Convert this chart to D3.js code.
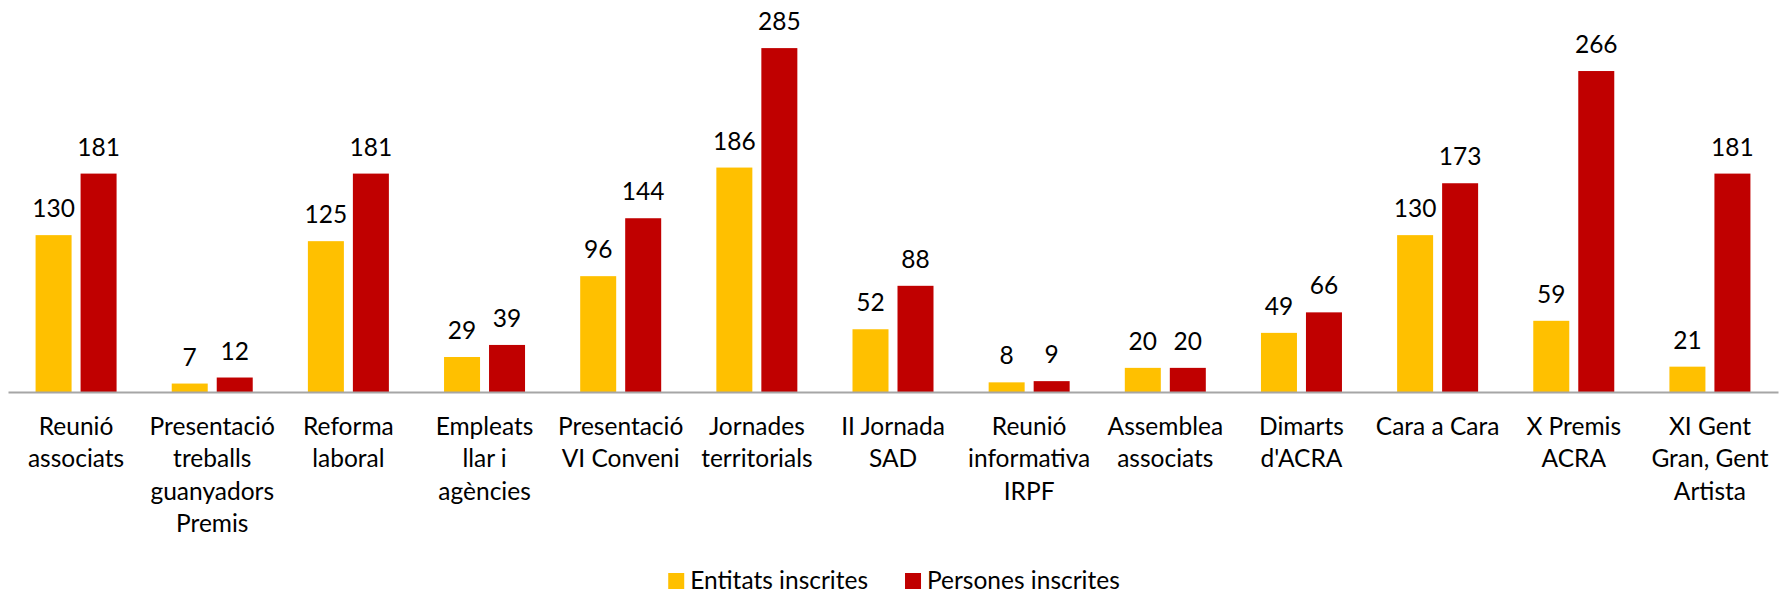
<!DOCTYPE html>
<html>
<head>
<meta charset="utf-8">
<script src="https://cdn.jsdelivr.net/npm/d3@7"></script>
<style>
  body { margin: 0; background: #fff; }
  text { font-family: Lato, "Noto Sans", sans-serif; fill: #000; }
</style>
</head>
<body>
<svg id="chart"></svg>
<script>
// categories, each one split into the lines it is printed on
var categories = [
  ["Reunió", "associats"],
  ["Presentació", "treballs", "guanyadors", "Premis"],
  ["Reforma", "laboral"],
  ["Empleats", "llar i", "agències"],
  ["Presentació", "VI Conveni"],
  ["Jornades", "territorials"],
  ["II Jornada", "SAD"],
  ["Reunió", "informativa", "IRPF"],
  ["Assemblea", "associats"],
  ["Dimarts", "d'ACRA"],
  ["Cara a Cara"],
  ["X Premis", "ACRA"],
  ["XI Gent", "Gran, Gent", "Artista"]
];
var seriesNames = ["Entitats inscrites", "Persones inscrites"];
var entitats = [130, 7, 125, 29, 96, 186, 52, 8, 20, 49, 130, 59, 21];
var persones = [181, 12, 181, 39, 144, 285, 88, 9, 20, 66, 173, 266, 181];
var colors = ["#FFC000", "#C00000"];

var width = 1783, height = 595;
var fontSize = 24.5;

var svg = d3.select("#chart").attr("width", width).attr("height", height);

var keys = categories.map(function (c) { return c.join(" "); });
var x0 = d3.scaleBand().domain(keys).range([8, 1778]).paddingInner(0).paddingOuter(0);
var bw = x0.bandwidth();
var x1 = d3.scaleBand().domain(seriesNames).range([0, bw])
  .paddingInner(0.2).paddingOuter((bw / 45 - 1.8) / 2);
var y = d3.scaleLinear().domain([0, 300]).range([392, 30]);

var rows = keys.map(function (k, i) {
  return { key: k, values: [entitats[i], persones[i]] };
});

var groups = svg.selectAll(".grp").data(rows).enter().append("g")
  .attr("class", "grp")
  .attr("transform", function (d) { return "translate(" + x0(d.key) + ",0)"; });

groups.selectAll("rect").data(function (d) {
  return d.values.map(function (v, j) { return { s: seriesNames[j], v: v, j: j }; });
}).enter().append("rect")
  .attr("x", function (d) { return x1(d.s); })
  .attr("width", x1.bandwidth())
  .attr("y", function (d) { return y(d.v); })
  .attr("height", function (d) { return y(0) - y(d.v); })
  .attr("fill", function (d) { return colors[d.j]; });

groups.selectAll(".val").data(function (d) {
  return d.values.map(function (v, j) { return { s: seriesNames[j], v: v }; });
}).enter().append("text")
  .attr("class", "val")
  .attr("x", function (d) { return x1(d.s) + x1.bandwidth() / 2; })
  .attr("y", function (d) { return y(d.v) - 18; })
  .attr("text-anchor", "middle")
  .style("font-size", fontSize + "px")
  .text(function (d) { return d.v; });

// x axis, labels wrapped over several lines
var xAxis = d3.axisBottom(x0).tickSize(0).tickSizeOuter(0).tickFormat("");
var gx = svg.append("g").attr("transform", "translate(0,392)").call(xAxis);
gx.select(".domain").attr("stroke", "#A6A6A6").attr("stroke-width", 2);
gx.selectAll(".tick text").remove();
gx.selectAll(".tick").each(function (k, i) {
  var t = d3.select(this).append("text")
    .attr("text-anchor", "middle")
    .attr("y", 43)
    .style("font-size", fontSize + "px");
  categories[i].forEach(function (line, n) {
    t.append("tspan").attr("x", 0).attr("dy", n === 0 ? 0 : 32.3).text(line);
  });
});

// legend
var legend = svg.append("g");
var lx = 0;
seriesNames.forEach(function (name, j) {
  var item = legend.append("g").attr("transform", "translate(" + lx + ",0)");
  item.append("rect").attr("x", 0).attr("y", 573).attr("width", 16).attr("height", 16)
    .attr("fill", colors[j]);
  var t = item.append("text").attr("x", 22).attr("y", 589)
    .style("font-size", fontSize + "px").text(name);
  lx += 22 + t.node().getComputedTextLength() + 37;
});
var lw = lx - 37;
legend.attr("transform", "translate(" + (894 - lw / 2) + ",0)");
</script>
</body>
</html>
